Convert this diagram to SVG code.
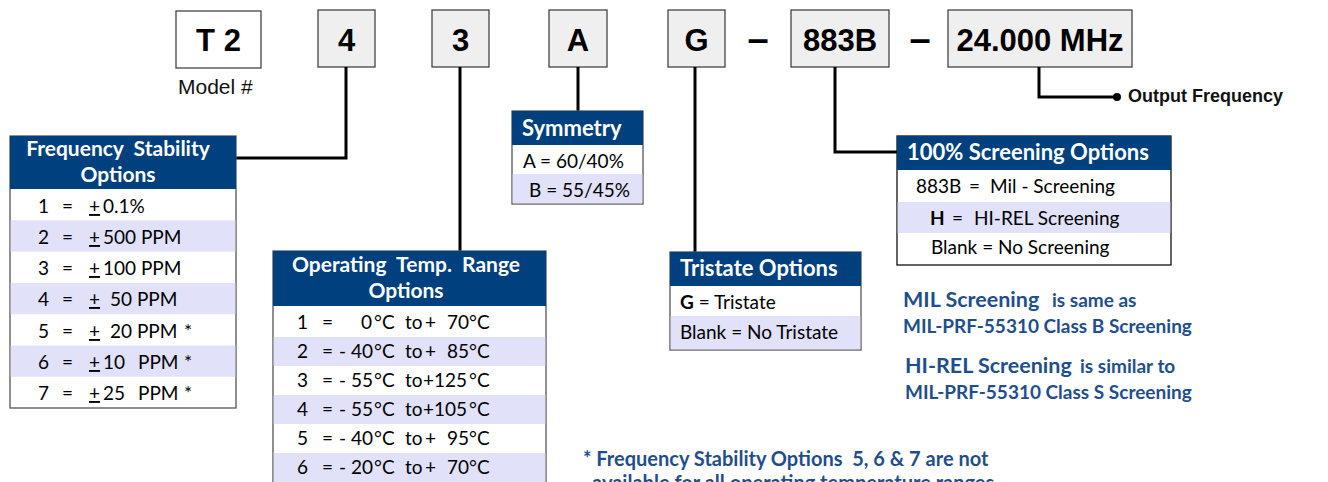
<svg xmlns="http://www.w3.org/2000/svg" width="1328" height="482" viewBox="0 0 1328 482">
<style>
.code{fill:#efefef;stroke:#444;stroke-width:1.3}
.codew{fill:#fff;stroke:#444;stroke-width:1.3}
.ct{font-family:"Liberation Sans",Arial,sans-serif;font-weight:bold;font-size:31px;fill:#000;text-anchor:middle}
.dash{font-family:"Liberation Sans",Arial,sans-serif;font-weight:bold;font-size:38px;fill:#000;text-anchor:middle}
.lbl{font-family:"Liberation Sans",Arial,sans-serif;font-size:21px;fill:#111}
.lblb{font-family:"Liberation Sans",Arial,sans-serif;font-weight:bold;font-size:18px;fill:#111}
.hd{fill:#00407f}
.box{fill:#fff;stroke:#555;stroke-width:1.3}
.alt{fill:#e1e1fa}
.ht{font-family:Lato,"Noto Sans",sans-serif;font-weight:bold;font-size:22px;fill:#fff;white-space:pre}
.ht2{font-family:Lato,"Noto Sans",sans-serif;font-weight:bold;font-size:21px;fill:#fff;white-space:pre;text-anchor:middle}
.rt{font-family:Lato,"Noto Sans",sans-serif;font-size:19px;fill:#000}
.note{font-family:Lato,"Noto Sans",sans-serif;font-weight:bold;font-size:19px;fill:#1f4e8d;white-space:pre}
.noteL{font-size:21.5px}
.foot{font-size:20px}
.conn{fill:none;stroke:#000;stroke-width:3}
</style>

<g id="code-boxes">
  <g id="box-t2"><rect class="codew" x="176" y="11" width="85" height="57"/><text class="ct" x="218.5" y="51">T 2</text></g>
  <text id="model-label" class="lbl" x="178" y="94">Model #</text>
  <g id="box-4"><rect class="code" x="318" y="10" width="57" height="57"/><text class="ct" x="346.5" y="51">4</text></g>
  <g id="box-3"><rect class="code" x="432" y="10" width="57" height="57"/><text class="ct" x="460.5" y="51">3</text></g>
  <g id="box-a"><rect class="code" x="549" y="10" width="58" height="57"/><text class="ct" x="578" y="51">A</text></g>
  <g id="box-g"><rect class="code" x="668" y="10" width="57" height="57"/><text class="ct" x="696.5" y="51">G</text></g>
  <text class="dash" x="758" y="52">–</text>
  <g id="box-883b"><rect class="code" x="791" y="10" width="98" height="57"/><text class="ct" x="840" y="51">883B</text></g>
  <text class="dash" x="920" y="52">–</text>
  <g id="box-freq"><rect class="code" x="948" y="10" width="184" height="57"/><text class="ct" x="1040" y="51">24.000 MHz</text></g>
  <text id="output-label" class="lblb" x="1128" y="102">Output Frequency</text>
</g>

<g id="connectors">
  <polyline class="conn" points="346,67 346,158 236,158"/>
  <line class="conn" x1="460" y1="67" x2="460" y2="251"/>
  <line class="conn" x1="578" y1="67" x2="578" y2="111"/>
  <line class="conn" x1="695" y1="67" x2="695" y2="252"/>
  <polyline class="conn" points="835,67 835,152 897,152"/>
  <polyline class="conn" points="1039,67 1039,97 1117,97"/>
  <circle cx="1117" cy="97" r="4" fill="#000"/>
</g>

<g id="freq-stability">
  <rect class="box" x="10" y="136" width="226" height="272"/>
  <rect class="hd" x="10" y="136" width="226" height="53"/>
  <rect class="alt" x="10.7" y="220.3" width="224.6" height="31.3"/>
  <rect class="alt" x="10.7" y="282.9" width="224.6" height="31.3"/>
  <rect class="alt" x="10.7" y="345.5" width="224.6" height="31.3"/>
  <text class="ht2" x="118" y="156">Frequency  Stability</text>
  <text class="ht2" x="118" y="182">Options</text>
  <g class="rt">
    <text y="213"><tspan x="38">1</tspan><tspan x="62">=</tspan><tspan x="89" text-decoration="underline">+</tspan><tspan x="103">0.1%</tspan></text>
    <text y="244"><tspan x="38">2</tspan><tspan x="62">=</tspan><tspan x="89" text-decoration="underline">+</tspan><tspan x="103">500 PPM</tspan></text>
    <text y="275"><tspan x="38">3</tspan><tspan x="62">=</tspan><tspan x="89" text-decoration="underline">+</tspan><tspan x="103">100 PPM</tspan></text>
    <text y="306"><tspan x="38">4</tspan><tspan x="62">=</tspan><tspan x="89" text-decoration="underline">+</tspan><tspan x="110">50 PPM</tspan></text>
    <text y="338"><tspan x="38">5</tspan><tspan x="62">=</tspan><tspan x="89" text-decoration="underline">+</tspan><tspan x="110">20 PPM</tspan><tspan x="184">*</tspan></text>
    <text y="369"><tspan x="38">6</tspan><tspan x="62">=</tspan><tspan x="89" text-decoration="underline">+</tspan><tspan x="103">10</tspan><tspan x="138">PPM</tspan><tspan x="184">*</tspan></text>
    <text y="400"><tspan x="38">7</tspan><tspan x="62">=</tspan><tspan x="89" text-decoration="underline">+</tspan><tspan x="103">25</tspan><tspan x="138">PPM</tspan><tspan x="184">*</tspan></text>
  </g>
</g>

<g id="temp-range">
  <rect class="box" x="273" y="251" width="273" height="245"/>
  <rect class="hd" x="273" y="251" width="273" height="55"/>
  <rect class="alt" x="273.7" y="337" width="271.6" height="29"/>
  <rect class="alt" x="273.7" y="395" width="271.6" height="29"/>
  <rect class="alt" x="273.7" y="453" width="271.6" height="29"/>
  <text class="ht2" x="406" y="272">Operating  Temp.  Range</text>
  <text class="ht2" x="406" y="298">Options</text>
  <g class="rt">
    <text y="329"><tspan x="297">1</tspan><tspan x="322">=</tspan><tspan x="361">0</tspan><tspan x="374">°C</tspan><tspan x="405">to</tspan><tspan x="425">+</tspan><tspan x="447">70</tspan><tspan x="469">°C</tspan></text>
    <text y="358"><tspan x="297">2</tspan><tspan x="322">=</tspan><tspan x="339">- 40</tspan><tspan x="374">°C</tspan><tspan x="405">to</tspan><tspan x="425">+</tspan><tspan x="447">85</tspan><tspan x="469">°C</tspan></text>
    <text y="387"><tspan x="297">3</tspan><tspan x="322">=</tspan><tspan x="339">- 55</tspan><tspan x="374">°C</tspan><tspan x="405">to</tspan><tspan x="423">+125</tspan><tspan x="469">°C</tspan></text>
    <text y="416"><tspan x="297">4</tspan><tspan x="322">=</tspan><tspan x="339">- 55</tspan><tspan x="374">°C</tspan><tspan x="405">to</tspan><tspan x="423">+105</tspan><tspan x="469">°C</tspan></text>
    <text y="445"><tspan x="297">5</tspan><tspan x="322">=</tspan><tspan x="339">- 40</tspan><tspan x="374">°C</tspan><tspan x="405">to</tspan><tspan x="425">+</tspan><tspan x="447">95</tspan><tspan x="469">°C</tspan></text>
    <text y="474"><tspan x="297">6</tspan><tspan x="322">=</tspan><tspan x="339">- 20</tspan><tspan x="374">°C</tspan><tspan x="405">to</tspan><tspan x="425">+</tspan><tspan x="447">70</tspan><tspan x="469">°C</tspan></text>
  </g>
</g>

<g id="symmetry">
  <rect class="box" x="512" y="111" width="131" height="93"/>
  <rect class="hd" x="512" y="111" width="131" height="34"/>
  <rect class="alt" x="512.7" y="174" width="129.6" height="29.3"/>
  <text class="ht" x="522" y="136">Symmetry</text>
  <text class="rt" x="523" y="168">A = 60/40%</text>
  <text class="rt" x="529" y="197">B = 55/45%</text>
</g>

<g id="tristate">
  <rect class="box" x="670" y="252" width="191" height="98"/>
  <rect class="hd" x="670" y="252" width="191" height="34"/>
  <rect class="alt" x="670.7" y="316" width="189.6" height="33.3"/>
  <text class="ht" x="680" y="276">Tristate Options</text>
  <text class="rt" x="680" y="309"><tspan font-weight="bold">G</tspan> = Tristate</text>
  <text class="rt" x="680" y="339">Blank = No Tristate</text>
</g>

<g id="screening">
  <rect x="897" y="136" width="274" height="129" fill="#fff" stroke="#111" stroke-width="1.3"/>
  <rect class="hd" x="897" y="136" width="274" height="34"/>
  <rect class="alt" x="897.7" y="202" width="272.6" height="31"/>
  <text class="ht" x="907" y="160">100% Screening Options</text>
  <text class="rt" y="193"><tspan x="916">883B</tspan><tspan x="969">=</tspan><tspan x="990">Mil - Screening</tspan></text>
  <text class="rt" y="225"><tspan x="930" font-weight="bold">H</tspan><tspan x="952">=</tspan><tspan x="974">HI-REL Screening</tspan></text>
  <text class="rt" x="931" y="254">Blank = No Screening</text>
</g>

<g id="notes">
  <text class="note" x="903" y="307"><tspan class="noteL">MIL Screening</tspan><tspan x="1052">is same as</tspan></text>
  <text class="note" x="903" y="333">MIL-PRF-55310 Class B Screening</text>
  <text class="note" x="905" y="373"><tspan class="noteL">HI-REL Screening</tspan><tspan x="1080">is similar to</tspan></text>
  <text class="note" x="905" y="399">MIL-PRF-55310 Class S Screening</text>
  <text class="note foot" x="583" y="466">* Frequency Stability Options  5, 6 &amp; 7 are not</text>
  <text class="note foot" x="592" y="490">available for all operating temperature ranges</text>
</g>
</svg>
